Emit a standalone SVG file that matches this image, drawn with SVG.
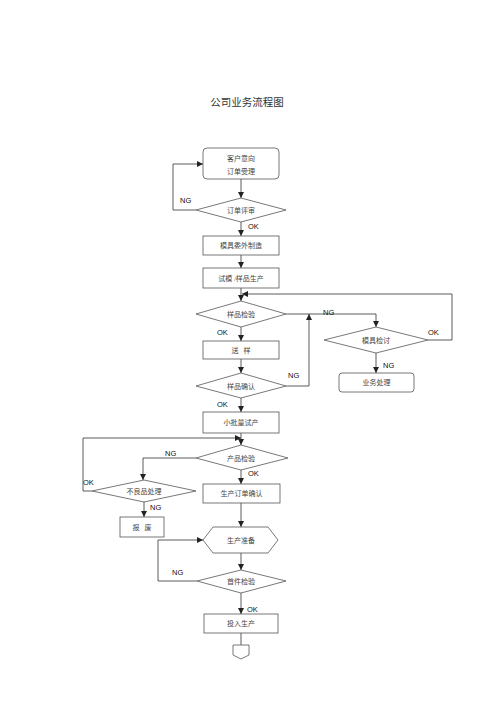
<svg xmlns="http://www.w3.org/2000/svg" width="500" height="707" viewBox="0 0 500 707">
<style>
.s{fill:#fff;stroke:#555;stroke-width:0.8}
.t{font-family:"Liberation Serif","Noto Sans CJK SC",serif;font-size:7px;fill:#444;text-anchor:middle;white-space:pre}
.l{font-family:"Liberation Sans",Arial,sans-serif;font-size:7.5px;fill:#111}
.c{fill:none;stroke:#333;stroke-width:0.8}
</style>
<defs>
<marker id="a" viewBox="0 0 10 10" refX="10" refY="5" markerWidth="6" markerHeight="6" orient="auto" markerUnits="userSpaceOnUse">
<path d="M0,0 L10,5 L0,10 z" fill="#222"/>
</marker>
</defs>
<rect width="500" height="707" fill="#fff"/>
<text x="247" y="106" style="font-family:'Liberation Serif','Noto Sans CJK SC',serif;font-size:10.5px;fill:#333;text-anchor:middle">公司业务流程图</text>

<g id="connectors">
<path class="c" marker-end="url(#a)" d="M241,179 V198"/>
<path class="c" marker-end="url(#a)" d="M196,210 H173 V164 H203"/>
<path class="c" marker-end="url(#a)" d="M241,222 V236"/>
<path class="c" marker-end="url(#a)" d="M241,255 V268"/>
<path class="c" marker-end="url(#a)" d="M241,288 V301"/>
<path class="c" marker-end="url(#a)" d="M428,340 H452 V294 H242"/>
<path class="c" marker-end="url(#a)" d="M286,314 H376 V327"/>
<path class="c" marker-end="url(#a)" d="M376,353 V373"/>
<path class="c" marker-end="url(#a)" d="M241,327 V341"/>
<path class="c" marker-end="url(#a)" d="M241,359 V373"/>
<path class="c" marker-end="url(#a)" d="M286,386 H309 V314"/>
<path class="c" marker-end="url(#a)" d="M241,398 V412"/>
<path class="c" marker-end="url(#a)" d="M241,433 V445"/>
<path class="c" marker-end="url(#a)" d="M92,491 H83 V438 H241"/>
<path class="c" marker-end="url(#a)" d="M196,458 H143 V480"/>
<path class="c" marker-end="url(#a)" d="M144,502 V517"/>
<path class="c" marker-end="url(#a)" d="M241,470 V484"/>
<path class="c" marker-end="url(#a)" d="M241,503 V527"/>
<path class="c" marker-end="url(#a)" d="M197,581 H158 V540 H203"/>
<path class="c" marker-end="url(#a)" d="M241,553 V570"/>
<path class="c" marker-end="url(#a)" d="M241,593 V614"/>
<path class="c" d="M241,633 V645"/>
<text class="l" x="180" y="203">NG</text>
<text class="l" x="248" y="229">OK</text>
<text class="l" x="217" y="335">OK</text>
<text class="l" x="323" y="315">NG</text>
<text class="l" x="428" y="335">OK</text>
<text class="l" x="383" y="368">NG</text>
<text class="l" x="288" y="378">NG</text>
<text class="l" x="217" y="407">OK</text>
<text class="l" x="165" y="456">NG</text>
<text class="l" x="248" y="476">OK</text>
<text class="l" x="83" y="485">OK</text>
<text class="l" x="150" y="510">NG</text>
<text class="l" x="172" y="575">NG</text>
<text class="l" x="247" y="612">OK</text>
</g>

<g id="n1"><rect class="s" x="203" y="148" width="76" height="31" rx="4"/><text class="t" x="241" y="161">客户意向</text><text class="t" x="241" y="174">订单受理</text></g>
<g id="n2"><polygon class="s" points="241,198 286,210 241,222 196,210"/><text class="t" x="241" y="212.5">订单评审</text></g>
<g id="n3"><rect class="s" x="203" y="236" width="76" height="19"/><text class="t" x="241" y="248">模具委外制造</text></g>
<g id="n4"><rect class="s" x="203" y="268" width="76" height="20"/><text class="t" x="241" y="280.5">试模 /样品生产</text></g>
<g id="n5"><polygon class="s" points="241,301 286,314 241,327 196,314"/><text class="t" x="241" y="316.5">样品检验</text></g>
<g id="n6"><polygon class="s" points="376,327 428,340 376,353 324,340"/><text class="t" x="376" y="342.5">模具检讨</text></g>
<g id="n7"><rect class="s" x="339" y="373" width="75" height="19" rx="3"/><text class="t" x="376.5" y="385">业务处理</text></g>
<g id="n8"><rect class="s" x="203" y="341" width="76" height="18"/><text class="t" x="241" y="352.5">送   样</text></g>
<g id="n9"><polygon class="s" points="241,373 286,386 241,398 196,386"/><text class="t" x="241" y="388.5">样品确认</text></g>
<g id="n10"><rect class="s" x="203" y="412" width="76" height="21"/><text class="t" x="241" y="425">小批量试产</text></g>
<g id="n11"><polygon class="s" points="241,445 288,458 241,470 196,458"/><text class="t" x="241" y="460.5">产品检验</text></g>
<g id="n12"><polygon class="s" points="144,480 196,491 144,502 92,491"/><text class="t" x="144" y="493.5">不良品处理</text></g>
<g id="n13"><rect class="s" x="120" y="517" width="44" height="20"/><text class="t" x="142" y="529.5">报   废</text></g>
<g id="n14"><rect class="s" x="203" y="484" width="77" height="19"/><text class="t" x="241.5" y="496">生产订单确认</text></g>
<g id="n15"><polygon class="s" points="213,527 268,527 278,540 268,553 213,553 203,540"/><text class="t" x="241" y="542.5">生产准备</text></g>
<g id="n16"><polygon class="s" points="241,570 286,581 241,593 197,581"/><text class="t" x="241" y="583.5">首件检验</text></g>
<g id="n17"><rect class="s" x="204" y="614" width="74" height="19"/><text class="t" x="241" y="626">投入生产</text></g>
<g id="n18"><polygon class="s" points="233,645 249,645 249,655 241,659 233,655"/></g>
</svg>
